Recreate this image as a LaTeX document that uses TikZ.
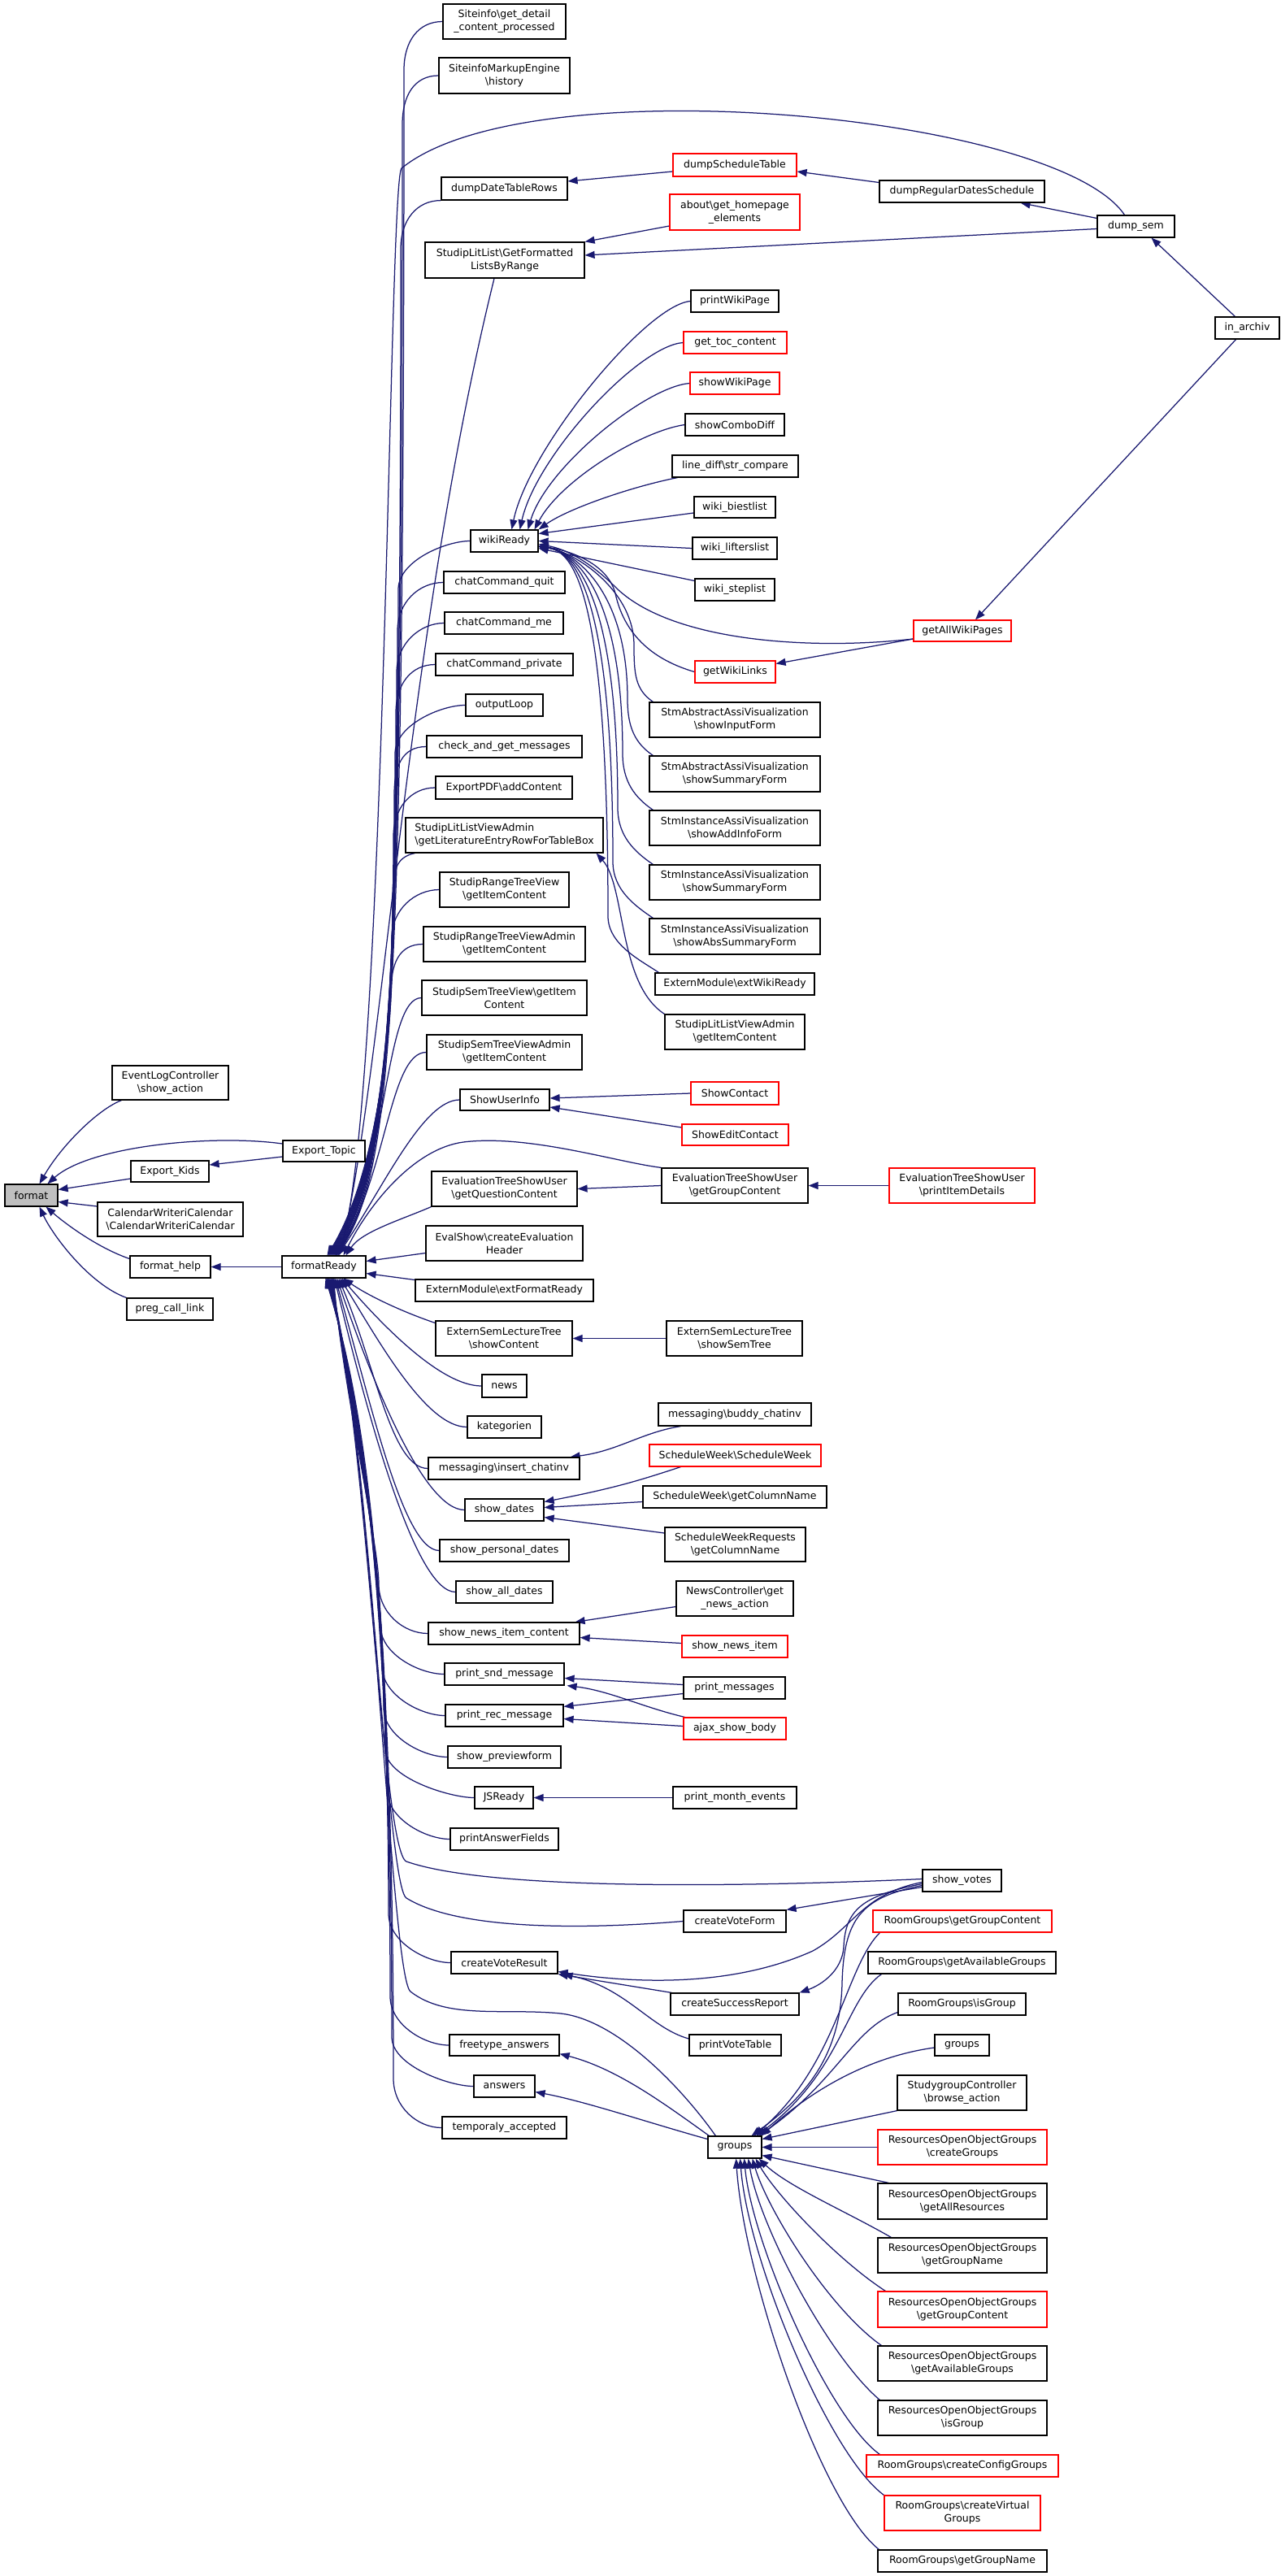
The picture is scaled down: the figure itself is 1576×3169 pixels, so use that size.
\documentclass[tikz,border=0pt]{standalone}
\usepackage{fontspec}
\setmainfont{DejaVu Sans}
\usetikzlibrary{arrows.meta}
\definecolor{edgec}{RGB}{25,25,112}
\definecolor{redc}{RGB}{255,0,0}
\definecolor{grayc}{RGB}{191,191,191}
\pgfdeclarelayer{back}
\pgfdeclarelayer{edges}
\pgfsetlayers{back,edges,main}
\newcommand\dxfont{\fontsize{12.5}{16}\selectfont}
\newcommand\mybs{\textbackslash}
\newcommand\mynode[7][]{\node[box,#1,minimum width={#5pt-#3pt},minimum height={#6pt-#4pt}] (#2) at ({(#3+#5)/2},{(#4+#6)/2}) {#7};}
\begin{document}
\begin{tikzpicture}[x=1pt,y=-1pt,
  box/.style={draw=black,line width=1.2pt,fill=white,inner sep=0pt,align=center,font=\dxfont},
  rbox/.style={draw=redc},
  e/.style={draw=edgec,line width=1.25pt,-{Triangle[length=12pt,width=9pt]}}]
\begin{pgfonlayer}{back}
\fill[white] (0,0) rectangle (1576,3169);
\end{pgfonlayer}
\useasboundingbox (0,0) rectangle (1576,3169);
% ---------- left group
\mynode[fill=grayc]{format}{6}{1457}{71}{1484}{format}
\mynode{evlog}{138}{1311}{281}{1353}{EventLogController\\\mybs show\_action}
\mynode{extopic}{348}{1403}{449}{1429}{Export\_Topic}
\mynode{exkids}{161}{1428}{257}{1454}{Export\_Kids}
\mynode{calw}{120}{1479}{299}{1521}{CalendarWriteriCalendar\\\mybs CalendarWriteriCalendar}
\mynode{fhelp}{160}{1545}{259}{1572}{format\_help}
\mynode{fr}{347}{1545}{450}{1572}{formatReady}
\mynode{preg}{156}{1597}{262}{1624}{preg\_call\_link}
% ---------- column B
\mynode{site1}{545}{5}{696}{48}{Siteinfo\mybs get\_detail\\\_content\_processed}
\mynode{site2}{540}{71}{701}{115}{SiteinfoMarkupEngine\\\mybs history}
\mynode{ddtr}{543}{218}{698}{246}{dumpDateTableRows}
\mynode{slgf}{523}{298}{719}{342}{StudipLitList\mybs GetFormatted\\ListsByRange}
\mynode{wiki}{579}{652}{662}{679}{wikiReady}
\mynode{ccq}{546}{703}{695}{730}{chatCommand\_quit}
\mynode{ccm}{547}{753}{693}{780}{chatCommand\_me}
\mynode{ccp}{536}{804}{705}{831}{chatCommand\_private}
\mynode{oloop}{573}{854}{668}{881}{outputLoop}
\mynode{cagm}{525}{905}{716}{932}{check\_and\_get\_messages}
\mynode{epdf}{536}{955}{704}{983}{ExportPDF\mybs addContent}
\mynode[align=left]{slva}{499}{1006}{742}{1049}{StudipLitListViewAdmin\\\mybs getLiteratureEntryRowForTableBox}
\mynode{srtv}{541}{1073}{700}{1116}{StudipRangeTreeView\\\mybs getItemContent}
\mynode{srtva}{521}{1140}{720}{1183}{StudipRangeTreeViewAdmin\\\mybs getItemContent}
\mynode{sstv}{519}{1206}{722}{1249}{StudipSemTreeView\mybs getItem\\Content}
\mynode{sstva}{525}{1273}{716}{1316}{StudipSemTreeViewAdmin\\\mybs getItemContent}
\mynode{sui}{566}{1340}{676}{1366}{ShowUserInfo}
\mynode{etqc}{531}{1441}{710}{1484}{EvaluationTreeShowUser\\\mybs getQuestionContent}
\mynode{evsh}{524}{1508}{717}{1551}{EvalShow\mybs createEvaluation\\Header}
\mynode{emfr}{511}{1574}{730}{1601}{ExternModule\mybs extFormatReady}
\mynode{eslc}{536}{1625}{704}{1668}{ExternSemLectureTree\\\mybs showContent}
\mynode{news}{593}{1691}{648}{1719}{news}
\mynode{kat}{575}{1742}{666}{1769}{kategorien}
\mynode{mic}{527}{1793}{713}{1820}{messaging\mybs insert\_chatinv}
\mynode{sdates}{572}{1844}{669}{1871}{show\_dates}
\mynode{spd}{541}{1894}{700}{1921}{show\_personal\_dates}
\mynode{sad}{561}{1945}{680}{1972}{show\_all\_dates}
\mynode{snic}{527}{1996}{713}{2023}{show\_news\_item\_content}
\mynode{psm}{547}{2046}{694}{2073}{print\_snd\_message}
\mynode{prm}{548}{2097}{693}{2124}{print\_rec\_message}
\mynode{spf}{551}{2148}{690}{2175}{show\_previewform}
\mynode{jsr}{584}{2198}{656}{2225}{JSReady}
\mynode{paf}{554}{2249}{687}{2276}{printAnswerFields}
\mynode{cvr}{555}{2401}{686}{2428}{createVoteResult}
\mynode{fta}{553}{2503}{688}{2529}{freetype\_answers}
\mynode{ans}{583}{2553}{658}{2580}{answers}
\mynode{tacc}{544}{2604}{697}{2631}{temporaly\_accepted}
% ---------- column C
\mynode[rbox]{dst}{828}{189}{980}{217}{dumpScheduleTable}
\mynode[rbox]{about}{824}{239}{984}{283}{about\mybs get\_homepage\\\_elements}
\mynode{pwp}{850}{357}{958}{384}{printWikiPage}
\mynode[rbox]{gtoc}{841}{408}{968}{435}{get\_toc\_content}
\mynode[rbox]{swp}{849}{458}{959}{485}{showWikiPage}
\mynode{scd}{843}{509}{965}{536}{showComboDiff}
\mynode{ldsc}{827}{560}{982}{587}{line\_diff\mybs str\_compare}
\mynode{wbl}{854}{611}{954}{637}{wiki\_biestlist}
\mynode{wll}{852}{661}{956}{688}{wiki\_lifterslist}
\mynode{wsl}{855}{712}{953}{739}{wiki\_steplist}
\mynode[rbox]{gwl}{855}{813}{954}{840}{getWikiLinks}
\mynode{saif}{799}{864}{1009}{907}{StmAbstractAssiVisualization\\\mybs showInputForm}
\mynode{sasf}{799}{930}{1009}{974}{StmAbstractAssiVisualization\\\mybs showSummaryForm}
\mynode{siaf}{799}{997}{1009}{1040}{StmInstanceAssiVisualization\\\mybs showAddInfoForm}
\mynode{sisf}{799}{1064}{1009}{1107}{StmInstanceAssiVisualization\\\mybs showSummaryForm}
\mynode{sias}{799}{1130}{1009}{1174}{StmInstanceAssiVisualization\\\mybs showAbsSummaryForm}
\mynode{emwr}{806}{1197}{1002}{1224}{ExternModule\mybs extWikiReady}
\mynode{slvg}{818}{1248}{990}{1291}{StudipLitListViewAdmin\\\mybs getItemContent}
\mynode[rbox]{shc}{850}{1331}{958}{1359}{ShowContact}
\mynode[rbox]{sec}{839}{1383}{970}{1409}{ShowEditContact}
\mynode{etgc}{814}{1437}{994}{1480}{EvaluationTreeShowUser\\\mybs getGroupContent}
\mynode{esst}{820}{1625}{987}{1668}{ExternSemLectureTree\\\mybs showSemTree}
\mynode{mbc}{810}{1726}{998}{1754}{messaging\mybs buddy\_chatinv}
\mynode[rbox]{sws}{799}{1777}{1010}{1804}{ScheduleWeek\mybs ScheduleWeek}
\mynode{swg}{791}{1828}{1017}{1855}{ScheduleWeek\mybs getColumnName}
\mynode{swrg}{818}{1879}{991}{1921}{ScheduleWeekRequests\\\mybs getColumnName}
\mynode{ncga}{832}{1945}{976}{1988}{NewsController\mybs get\\\_news\_action}
\mynode[rbox]{sni}{839}{2012}{969}{2039}{show\_news\_item}
\mynode{pm}{841}{2063}{966}{2090}{print\_messages}
\mynode[rbox]{asb}{841}{2113}{967}{2140}{ajax\_show\_body}
\mynode{pme}{828}{2198}{980}{2225}{print\_month\_events}
\mynode{cvf}{841}{2350}{967}{2377}{createVoteForm}
\mynode{csr}{825}{2452}{983}{2479}{createSuccessReport}
\mynode{pvt}{848}{2503}{961}{2529}{printVoteTable}
\mynode{grp}{871}{2628}{937}{2655}{groups}
% ---------- column D
\mynode{drds}{1082}{222}{1285}{249}{dumpRegularDatesSchedule}
\mynode[rbox]{gawp}{1124}{763}{1244}{789}{getAllWikiPages}
\mynode[rbox]{etpd}{1094}{1437}{1273}{1480}{EvaluationTreeShowUser\\\mybs printItemDetails}
\mynode{svotes}{1135}{2300}{1232}{2327}{show\_votes}
\mynode[rbox]{rggc}{1074}{2350}{1294}{2377}{RoomGroups\mybs getGroupContent}
\mynode{rgag}{1068}{2401}{1299}{2428}{RoomGroups\mybs getAvailableGroups}
\mynode{rgig}{1105}{2452}{1262}{2479}{RoomGroups\mybs isGroup}
\mynode{grp2}{1150}{2503}{1217}{2529}{groups}
\mynode{sgba}{1104}{2553}{1263}{2596}{StudygroupController\\\mybs browse\_action}
\mynode[rbox]{roocg}{1080}{2620}{1288}{2663}{ResourcesOpenObjectGroups\\\mybs createGroups}
\mynode{rooar}{1080}{2686}{1288}{2730}{ResourcesOpenObjectGroups\\\mybs getAllResources}
\mynode{roogn}{1080}{2753}{1288}{2796}{ResourcesOpenObjectGroups\\\mybs getGroupName}
\mynode[rbox]{roogc}{1080}{2819}{1288}{2863}{ResourcesOpenObjectGroups\\\mybs getGroupContent}
\mynode{rooag}{1080}{2886}{1288}{2929}{ResourcesOpenObjectGroups\\\mybs getAvailableGroups}
\mynode{rooig}{1080}{2953}{1288}{2996}{ResourcesOpenObjectGroups\\\mybs isGroup}
\mynode[rbox]{rgccg}{1066}{3020}{1302}{3047}{RoomGroups\mybs createConfigGroups}
\mynode[rbox]{rgcvg}{1088}{3070}{1280}{3113}{RoomGroups\mybs createVirtual\\Groups}
\mynode{rggn}{1080}{3137}{1288}{3164}{RoomGroups\mybs getGroupName}
% ---------- column E
\mynode{dsem}{1350}{265}{1445}{292}{dump\_sem}
\mynode{inarch}{1495}{390}{1574}{417}{in\_archiv}

\begin{pgfonlayer}{edges}
% ========== edges into format
\draw[e] ([xshift=12pt]evlog.south west) .. controls (120,1365) and (75,1410) .. ([xshift=10pt]format.north);
\draw[e] ([yshift=9pt]extopic.west) .. controls (260,1395) and (110,1410) .. ([xshift=20pt]format.north);
\draw[e] ([yshift=-9pt]exkids.west) -- ([yshift=7pt]format.east);
\draw[e] ([yshift=16pt]calw.west) -- ([yshift=-8pt]format.east);
\draw[e] ([yshift=10pt]fhelp.west) .. controls (120,1535) and (80,1505) .. ([xshift=18pt]format.south);
\draw[e] (preg.north west) .. controls (110,1580) and (65,1520) .. ([xshift=10pt]format.south);
\draw[e] ([yshift=-7pt]extopic.west) -- ([yshift=8pt]exkids.east);
\draw[e] (fr.west) -- (fhelp.east);

% ========== edges into formatReady (upper callers)
\foreach \n/\sy/\xt/\dx in {site1/26/497/16, site2/93/495/15, wiki/665/490/13, ccq/716/489/12, ccm/767/488/11, ccp/817/487/10, oloop/867/486/9, cagm/918/485/8, epdf/969/484/7, srtv/1094/482/5, srtva/1161/481/4}
  {\draw[e] (\n.west) .. controls +(-30,0) and (\xt,{\sy+25}) .. (\xt,{\sy+60}) .. controls (\xt,1250) and ({\xt-15},1440) .. ([xshift=\dx pt]fr.north);}
\draw[e] (ddtr.south west) .. controls +(-30,0) and (493,271) .. (493,306) .. controls (493,1250) and (478,1440) .. ([xshift=14pt]fr.north);
\draw[e] ([xshift=12pt]slva.south west) .. controls +(-25,5) and (483,1074) .. (483,1109) .. controls (483,1250) and (468,1440) .. ([xshift=6pt]fr.north);
\draw[e] (sstv.west) .. controls +(-45,0) and (478,1430) .. ([xshift=14pt]fr.north);
\draw[e] (sstva.west) .. controls +(-45,0) and (476,1445) .. ([xshift=15pt]fr.north);
\draw[e] (sui.west) .. controls +(-45,0) and (472,1460) .. ([xshift=17pt]fr.north);
\draw[e] ([xshift=-14pt]dsem.north) .. controls (1300,140) and (650,80) .. (494,207) .. controls (478,225) and (476,1350) .. ([xshift=18pt]fr.north);
\draw[e] ([xshift=-13pt]slgf.south) .. controls (500,780) and (470,1330) .. ([xshift=19pt]fr.north);
\draw[e] (etgc.north west) .. controls (760,1430) and (650,1395) .. (570,1405) .. controls (510,1413) and (455,1480) .. ([xshift=24pt]fr.north);
\draw[e] (etqc.south west) .. controls (495,1500) and (445,1515) .. ([xshift=27pt]fr.north);
\draw[e] ([yshift=-12pt]evsh.west) -- ([yshift=7pt]fr.east);
\draw[e] ([yshift=13pt]emfr.west) -- ([yshift=-8pt]fr.east);
\draw[e] ([yshift=19pt]eslc.west) .. controls (490,1612) and (450,1592) .. ([xshift=24pt]fr.south);

% ========== edges into formatReady (lower callers)
\draw[e] (news.west) .. controls +(-50,0) and (470,1630) .. ([xshift=22pt]fr.south);
\draw[e] (kat.west) .. controls +(-50,0) and (466,1650) .. ([xshift=20pt]fr.south);
\draw[e] (mic.west) .. controls +(-45,0) and (462,1680) .. ([xshift=18pt]fr.south);
\draw[e] (sdates.west) .. controls +(-50,0) and (458,1700) .. ([xshift=16pt]fr.south);
\draw[e] (spd.west) .. controls +(-45,0) and (455,1720) .. ([xshift=14pt]fr.south);
\draw[e] (sad.west) .. controls +(-50,0) and (452,1740) .. ([xshift=13pt]fr.south);
\foreach \n/\sy/\xt/\dx in {snic/2009/466/12, psm/2060/468/11, prm/2110/470/10, spf/2161/472/9, jsr/2212/474/8, paf/2262/476/7, cvr/2414/478/6, fta/2516/480/4, ans/2566/482/3, tacc/2617/484/2}
  {\draw[e] (\n.west) .. controls +(-30,0) and (\xt,{\sy-25}) .. (\xt,{\sy-60}) .. controls (\xt,1900) and ({\xt-45},1700) .. ([xshift=\dx pt]fr.south);}
\draw[e] ([yshift=2pt]svotes.west) .. controls (900,2322) and (600,2325) .. (500,2290) .. controls (470,2278) and (450,1740) .. ([xshift=5pt]fr.south);
\draw[e] (cvf.west) .. controls (700,2375) and (560,2372) .. (500,2335) .. controls (475,2320) and (455,1760) .. ([xshift=6pt]fr.south);
\draw[e] ([xshift=10pt]grp.north west) .. controls (840,2570) and (760,2485) .. (690,2477) .. controls (620,2470) and (550,2485) .. (505,2450) .. controls (480,2430) and (458,1760) .. ([xshift=4pt]fr.south);

% ========== dump chain
\draw[e] ([xshift=-15pt]inarch.north) -- ([xshift=19pt]dsem.south);
\draw[e] ([xshift=-14pt]inarch.south) -- ([xshift=16pt]gawp.north);
\draw[e] ([yshift=10pt]dsem.west) -- ([xshift=-30pt]drds.south east);
\draw[e] ([yshift=-3pt]dsem.west) -- ([yshift=6pt]slgf.east);
\draw[e] ([yshift=11pt]drds.west) -- ([yshift=-8pt]dst.east);
\draw[e] ([yshift=-8pt]dst.west) -- ([yshift=9pt]ddtr.east);
\draw[e] ([yshift=-17pt]about.west) -- (slgf.north east);

% ========== wikiReady
\draw[e] (pwp.west) .. controls (795,375) and (650,552) .. ([xshift=9pt]wiki.north);
\draw[e] (gtoc.west) .. controls (786,425) and (660,560) .. ([xshift=19pt]wiki.north);
\draw[e] (swp.west) .. controls (794,476) and (672,575) .. ([xshift=29pt]wiki.north);
\draw[e] (scd.west) .. controls (790,530) and (690,590) .. ([xshift=37pt]wiki.north);
\draw[e] ([xshift=7pt]ldsc.south west) .. controls (780,598) and (700,625) .. (wiki.north east);
\draw[e] ([yshift=-7pt]wbl.west) -- ([yshift=9pt]wiki.east);
\draw[e] (wll.west) -- (wiki.east);
\draw[e] ([yshift=11pt]wsl.west) -- ([yshift=-9pt]wiki.east);
\draw[e] ([yshift=-10pt]gawp.west) .. controls (1000,800) and (830,790) .. (760,725) .. controls (730,695) and (700,676) .. ([yshift=-4pt]wiki.east);
\draw[e] ([yshift=-10pt]gawp.west) -- ([yshift=10pt]gwl.east);
\draw[e] (gwl.west) .. controls (815,815) and (770,790) .. (757,730) .. controls (748,695) and (705,678) .. ([yshift=-6pt]wiki.east);
\foreach \n/\sy/\xt in {saif/864/780, sasf/930/772, siaf/997/766, sisf/1064/760, sias/1130/754, emwr/1197/748}
  {\draw[e] ([xshift=5pt]\n.north west) .. controls +(-22,-15) and (\xt,{\sy-35}) .. (\xt,{\sy-70}) .. controls (\xt,725) and (705,678) .. ([yshift=-7pt]wiki.east);}
\draw[e] (slvg.north west) .. controls (760,1210) and (770,1090) .. ([xshift=-9pt]slva.south east);

% ========== misc
\draw[e] (shc.west) -- ([yshift=2pt]sui.east);
\draw[e] ([yshift=9pt]sec.west) -- ([yshift=-9pt]sui.east);
\draw[e] (etgc.west) -- (etqc.east);
\draw[e] (etpd.west) -- (etgc.east);
\draw[e] (esst.west) -- (eslc.east);
\draw[e] ([xshift=28pt]mbc.south west) .. controls (790,1762) and (760,1785) .. ([xshift=-12pt]mic.north east);
\draw[e] ([xshift=39pt]sws.south west) .. controls (790,1820) and (760,1830) .. ([yshift=10pt]sdates.east);
\draw[e] ([yshift=-6pt]swg.west) -- ([yshift=3pt]sdates.east);
\draw[e] ([yshift=14pt]swrg.west) -- ([yshift=-9pt]sdates.east);
\draw[e] ([yshift=-10pt]ncga.west) -- ([xshift=-6pt]snic.north east);
\draw[e] ([yshift=4pt]sni.west) -- ([yshift=-5pt]snic.east);
\draw[e] ([yshift=4pt]pm.west) -- ([yshift=-5pt]psm.east);
\draw[e] ([yshift=-7pt]pm.west) -- ([yshift=-3pt]prm.north east);
\draw[e] ([xshift=2pt]asb.north west) .. controls (790,2100) and (750,2080) .. ([xshift=3pt]psm.south east);
\draw[e] ([yshift=3pt]asb.west) -- ([yshift=-4pt]prm.east);
\draw[e] (pme.west) -- (jsr.east);

% ========== votes
\draw[e] ([yshift=-8pt]svotes.west) -- (cvf.north east);
\draw[e] ([yshift=-2pt]svotes.west) .. controls (1060,2330) and (1050,2372) .. (1000,2400) .. controls (900,2445) and (780,2440) .. ([yshift=-11pt]cvr.east);
\draw[e] ([yshift=-4pt]svotes.west) .. controls (1060,2332) and (1040,2350) .. (1038,2395) .. controls (1036,2425) and (1010,2442) .. (csr.north east);
\draw[e] ([yshift=-6pt]svotes.west) .. controls (1060,2334) and (1038,2360) .. (1036,2440) .. controls (1034,2530) and (990,2580) .. ([xshift=-13pt]grp.north east);
\draw[e] ([xshift=2pt]csr.north west) -- (cvr.south east);
\draw[e] ([yshift=8pt]pvt.west) .. controls (800,2495) and (770,2445) .. ([xshift=6pt]cvr.south east);
\draw[e] ([xshift=2pt]grp.north west) .. controls (820,2590) and (760,2545) .. ([yshift=3pt]fta.south east);
\draw[e] ([yshift=10pt]grp.west) .. controls (800,2612) and (720,2585) .. ([yshift=-7pt]ans.east);

% ========== groups callers
\draw[e] ([xshift=9pt]rggc.south west) .. controls (1040,2420) and (1030,2540) .. ([xshift=-10pt]grp.north east);
\draw[e] ([xshift=17pt]rgag.south west) .. controls (1040,2460) and (1035,2550) .. ([xshift=-7pt]grp.north east);
\draw[e] ([yshift=-10pt]rgig.west) .. controls (1050,2495) and (1030,2560) .. ([xshift=-4pt]grp.north east);
\draw[e] ([yshift=-3pt]grp2.west) .. controls (1070,2530) and (1000,2570) .. ([xshift=-1pt]grp.north east);
\draw[e] (sgba.south west) -- ([yshift=10pt]grp.east);
\draw[e] (roocg.west) -- (grp.east);
\draw[e] ([xshift=14pt]rooar.north west) -- ([yshift=-10pt]grp.east);
\draw[e] ([xshift=17pt]roogn.north west) .. controls (1040,2720) and (970,2690) .. ([xshift=-4pt]grp.south east);
\draw[e] ([xshift=10pt]roogc.north west) .. controls (1030,2780) and (955,2700) .. ([xshift=-8pt]grp.south east);
\draw[e] ([xshift=5pt]rooag.north west) .. controls (1020,2840) and (945,2720) .. ([xshift=-12pt]grp.south east);
\draw[e] ([xshift=3pt]rooig.north west) .. controls (1020,2900) and (935,2740) .. ([xshift=-17pt]grp.south east);
\draw[e] ([xshift=17pt]rgccg.north west) .. controls (1020,2975) and (925,2760) .. ([xshift=-22pt]grp.south east);
\draw[e] (rgcvg.north west) .. controls (1020,3020) and (920,2780) .. ([xshift=-27pt]grp.south east);
\draw[e] ([xshift=2pt]rggn.north west) .. controls (1010,3080) and (915,2800) .. ([xshift=-32pt]grp.south east);
\end{pgfonlayer}
\end{tikzpicture}
\end{document}
